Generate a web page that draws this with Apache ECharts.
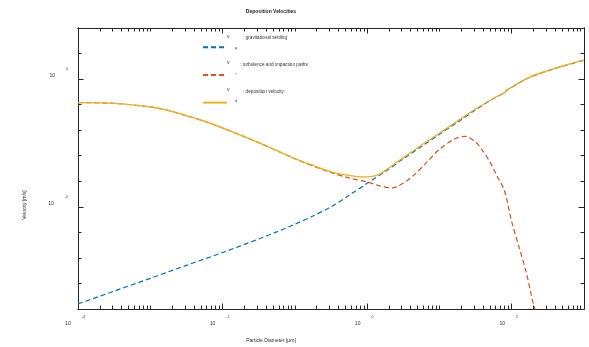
<!DOCTYPE html>
<html><head><meta charset="utf-8">
<script src="https://cdn.jsdelivr.net/npm/echarts@6/dist/echarts.min.js"></script>
<style>html,body{margin:0;padding:0;background:#fff}#c{width:589px;height:347px}</style>
</head><body><div id="c"></div>
<script>
// Particle diameter exponents (log10 of µm) and velocity exponents (log10 of m/s)
const dG = [-4,-3.5,-3,-2.5,-2,-1.5,-1.25,-1,-0.75,-0.5,-0.25,0,0.25,0.5,0.75,1,1.25,1.5,1.75,1.91,1.925,2.25,2.5,2.75,3];
const vG = [-8.80,-8.30,-7.80,-7.29,-6.79,-6.26,-5.98,-5.68,-5.36,-5.00,-4.55,-4.08,-3.62,-3.12,-2.64,-2.16,-1.69,-1.20,-0.76,-0.52,-0.45,0.07,0.32,0.54,0.74];

const dT = [-4,-3.5,-3,-2.75,-2.5,-2.25,-2,-1.75,-1.5,-1.25,-1,-0.75,-0.5,-0.25,0,0.2,0.35,0.5,0.65,0.83,1,1.2,1.35,1.5,1.6,1.7,1.8,1.9,2,2.1,2.2,2.3,2.4];
const vT = [-0.92,-0.95,-1.09,-1.23,-1.435,-1.65,-1.915,-2.195,-2.49,-2.80,-3.12,-3.40,-3.66,-3.87,-4.03,-4.20,-4.26,-4.07,-3.75,-3.24,-2.75,-2.36,-2.24,-2.46,-2.81,-3.25,-3.81,-4.37,-5.59,-6.56,-7.56,-8.8,-9.7];

const dD = [-4,-3.5,-3,-2.75,-2.5,-2.25,-2,-1.75,-1.5,-1.25,-1,-0.75,-0.5,-0.25,-0.05,0.15,0.3,0.5,0.75,1,1.25,1.5,1.75,1.91,1.925,2.25,2.5,2.75,3];
const vD = [-0.92,-0.95,-1.09,-1.23,-1.435,-1.65,-1.915,-2.195,-2.49,-2.80,-3.11,-3.38,-3.63,-3.77,-3.83,-3.75,-3.48,-3.08,-2.59,-2.12,-1.64,-1.17,-0.75,-0.51,-0.44,0.08,0.33,0.55,0.74];

const seriesNames = ['v_g', 'v_t', 'v_d'];
const legendTexts = [': gravitational settling', ': turbulence and impaction paths', ': deposition velocity'];
const legendSubs = ['g', 't', 'd'];
const xLabelVals = [1e-4, 1e-2, 1, 1e2];
const yLabelVals = [1e-5, 1];

const FONT = '"Liberation Sans", Arial, Helvetica, sans-serif';
const AX = '#262626';
const TXT = '#333333';

function pairs(xs, ys) { return xs.map((x, i) => [Math.pow(10, x), Math.pow(10, ys[i])]); }

const xMinor = [], yMinor = [];
for (let e = -4; e <= 3; e++) for (let k = 1; k <= 9; k++) {
  const v = k * Math.pow(10, e);
  if (v <= 1e3 * 1.0001 && !xLabelVals.some(m => Math.abs(m - v) / v < 1e-9)) xMinor.push(v);
}
for (let e = -9; e <= 2; e++) { const v = Math.pow(10, e); if (!yLabelVals.some(m => Math.abs(m - v) / v < 1e-9)) yMinor.push(v); }

const richLbl = {
  a: { fontSize: 5, fontFamily: FONT, color: TXT, verticalAlign: 'bottom' },
  sp: { width: 11, lineHeight: 11 },
  s: { fontSize: 3.6, fontFamily: FONT, color: TXT, verticalAlign: 'top' }
};
function expFmt(v) { const e = Math.round(Math.log10(v)); return '{a|10}{sp|}{s|' + e + '}'; }

function xAx(pos, ticks, len, labels) {
  return {
    type: 'log', logBase: 10, min: 1e-4, max: 1e3, position: pos,
    axisLine: { show: true, onZero: false, lineStyle: { color: AX, width: 1 } },
    axisTick: { show: true, inside: true, length: len, customValues: ticks, lineStyle: { color: AX, width: 1 } },
    axisLabel: labels ? { show: true, customValues: xLabelVals, formatter: expFmt, rich: richLbl, margin: 6, padding: [0, 6, 0, 0] } : { show: false },
    splitLine: { show: false }, minorTick: { show: false }
  };
}
function yAx(pos, ticks, len, labels) {
  return {
    type: 'log', logBase: 10, min: 1e-9, max: 1e2, position: pos,
    axisLine: { show: true, onZero: false, lineStyle: { color: AX, width: 1 } },
    axisTick: { show: true, inside: true, length: len, customValues: ticks, lineStyle: { color: AX, width: 1 } },
    axisLabel: labels ? { show: true, customValues: yLabelVals, formatter: expFmt, rich: richLbl, margin: 10, padding: [0, 0, 13, 0] } : { show: false },
    splitLine: { show: false }, minorTick: { show: false }
  };
}

const colors = ['#0072BD', '#D95319', '#EDB120'];
const chart = echarts.init(document.getElementById('c'), null, { renderer: 'canvas' });
const graphics = [
  { type: 'text', x: 271, y: 11.5, style: { text: 'Deposition Velocities', font: 'bold 5px ' + FONT, fill: '#222', textAlign: 'center', textVerticalAlign: 'middle' } },
  { type: 'text', x: 271, y: 341, style: { text: 'Particle Diameter [µm]', font: '5px ' + FONT, fill: TXT, textAlign: 'center', textVerticalAlign: 'middle' } },
  { type: 'text', x: 24.5, y: 205, rotation: Math.PI / 2, style: { text: 'Velocity [m/s]', font: '5px ' + FONT, fill: TXT, textAlign: 'center', textVerticalAlign: 'middle' } }
];
legendTexts.forEach((t, i) => {
  const cy = 46.7 + i * 26.7;
  graphics.push({ type: 'text', x: 228.3, y: cy - 10.5, style: { text: 'v', font: '5px ' + FONT, fill: TXT, textAlign: 'center', textVerticalAlign: 'middle' } });
  graphics.push({ type: 'text', x: 236, y: cy + 1, style: { text: legendSubs[i], font: '3.6px ' + FONT, fill: TXT, textAlign: 'center', textVerticalAlign: 'middle' } });
  graphics.push({ type: 'text', x: i === 1 ? 240 : 243, y: cy - 8.7, style: { text: t, font: '4.7px ' + FONT, fill: TXT, textAlign: 'left', textVerticalAlign: 'middle' } });
});

chart.setOption({
  animation: false,
  backgroundColor: '#ffffff',
  color: colors,
  grid: { left: 78, right: 5, top: 28, bottom: 38, containLabel: false },
  legend: {
    orient: 'vertical', left: 202, top: 46.2, padding: 0,
    itemWidth: 24, itemHeight: 1, itemGap: 25.7,
    itemStyle: { opacity: 0 },
    formatter: () => '', selectedMode: false,
    data: seriesNames
  },
  xAxis: [xAx('bottom', xLabelVals, 5.5, true), xAx('bottom', xMinor, 3.5, false), xAx('top', xLabelVals, 5.5, false), xAx('top', xMinor, 3.5, false)],
  yAxis: [yAx('left', yLabelVals, 5.5, true), yAx('left', yMinor, 3.5, false), yAx('right', yLabelVals, 5.5, false), yAx('right', yMinor, 3.5, false)],
  graphic: graphics,
  series: [
    { name: seriesNames[0], type: 'line', data: pairs(dG, vG), showSymbol: false, symbol: 'none', smooth: 0.3, clip: true,
      lineStyle: { color: colors[0], width: 1.2, type: [5, 3] } },
    { name: seriesNames[1], type: 'line', data: pairs(dT, vT), showSymbol: false, symbol: 'none', smooth: 0.3, clip: true,
      lineStyle: { color: colors[1], width: 1.2, type: [5, 3] } },
    { name: seriesNames[2], type: 'line', data: pairs(dD, vD), showSymbol: false, symbol: 'none', smooth: 0.3, clip: true,
      lineStyle: { color: colors[2], width: 1.4, type: 'solid' } }
  ]
});
</script></body></html>
